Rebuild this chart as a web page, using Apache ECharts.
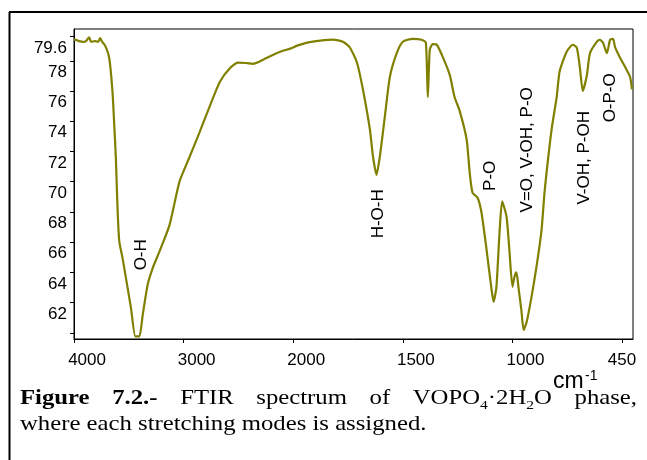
<!DOCTYPE html>
<html><head><meta charset="utf-8">
<script src="https://cdn.jsdelivr.net/npm/echarts@6/dist/echarts.min.js"></script>
<style>html,body{margin:0;padding:0;background:#fff}#c{width:647px;height:460px}</style>
</head><body><div id="c"></div>
<script>
// ---- data (wavenumber in cm-1, transmittance %) ----
const wavenumbers = [4000,3991,3954,3917,3890,3862,3844,3807,3780,3761,3743,3716,3679,3649,3633,3618,3603,3587,3557,3526,3480,3440,3404,3373,3328,3282,3220,3128,3037,2945,2853,2761,2670,2578,2505,2430,2367,2321,2239,2119,2028,1982,1936,1877,1818,1773,1741,1709,1682,1650,1636,1620,1605,1582,1559,1527,1500,1455,1414,1395,1386,1377,1364,1345,1318,1286,1264,1241,1209,1195,1182,1159,1141,1118,1095,1086,1073,1059,1047,1027,1014,1000,990,980,970,955,944,929,904,879,854,839,823,803,778,763,728,697,677,662,647,627,611,576,561,546,526,510,495,485,460,435,410,400];
const transmittance = [79.40,79.40,79.30,79.25,79.30,79.55,79.25,79.30,79.25,79.50,79.25,79.00,78.20,75.97,73.77,71.56,68.26,66.05,64.95,63.63,61.64,59.77,59.77,61.20,63.19,64.29,65.39,67.15,70.02,71.65,73.30,75.00,76.60,77.50,77.87,77.85,77.80,77.90,78.20,78.60,78.80,79.00,79.20,79.33,79.40,79.26,78.86,77.87,76.10,73.44,71.65,70.46,71.65,74.30,76.94,78.53,79.26,79.45,79.39,79.20,75.60,78.73,79.10,79.06,78.26,77.07,75.60,74.70,72.80,70.60,69.27,68.94,67.95,65.50,62.85,62.06,63.05,66.60,68.70,67.70,65.50,63.05,63.70,64.00,63.05,61.50,60.20,60.70,62.40,64.40,66.80,69.30,71.30,73.50,75.60,77.30,78.60,79.06,78.86,77.60,76.00,77.00,78.50,79.26,79.39,79.20,78.50,79.39,79.45,78.90,78.20,77.60,76.94,76.10];
const xTickWavenumbers = [4000,3000,2000,1500,1000,450];
const xTickLabels = ['4000','3000','2000','1500','1000','450'];
const yTickValues = [60,62,64,66,68,70,72,74,76,78,79.6];
const yLabelValues = [62,64,66,68,70,72,74,76,78,79.6];
const yLabelTexts = ['62','64','66','68','70','72','74','76','78','79.6'];
const annotations = [
  {text:'O-H', wn:3385, t:65.17},
  {text:'H-O-H', wn:1614, t:67.88},
  {text:'P-O', wn:1100, t:70.39},
  {text:'V=O, V-OH, P-O', wn:924, t:72.11},
  {text:'V-OH, P-OH', wn:637, t:71.58},
  {text:'O-P-O', wn:510, t:75.55}
];
const axisUnitLabel = 'cm';
const axisUnitSup = '-1';
const captionLine1 = [
  [{t:'Figure', b:true}], [{t:'7.2.-', b:true}], [{t:'FTIR'}], [{t:'spectrum'}], [{t:'of'}],
  [{t:'VOPO'},{t:'4',sub:true},{t:'·2H'},{t:'2',sub:true},{t:'O'}], [{t:'phase,'}]
];
const captionLine2 = 'where each stretching modes is assigned.';

// piecewise wavenumber -> axis position (each labelled tick interval = 1 unit)
function toAxis(w){
  const t = xTickWavenumbers;
  for (let i=0;i<t.length-1;i++){
    if (w >= t[i+1] || i === t.length-2) return i + (t[i]-w)/(t[i]-t[i+1]);
  }
}
const SANS = '"Liberation Sans", Arial, sans-serif';
const SERIF = '"Liberation Serif", "Times New Roman", serif';
const xLabelShift = 0.119, yLabelShift = 0.76;

const chart = echarts.init(document.getElementById('c'), null, {renderer:'canvas'});
chart.setOption({
  animation:false,
  backgroundColor:'#fff',
  grid:{left:74, right:14, top:29, bottom:121, show:true, borderColor:'#000', borderWidth:1, containLabel:false, outerBoundsMode:'none'},
  xAxis:{type:'value', min:0, max:5.1,
    axisLine:{show:true, onZero:false, lineStyle:{color:'#000', width:1}},
    axisTick:{show:true, inside:false, length:4, lineStyle:{color:'#000'}, customValues:xTickWavenumbers.map((w)=>toAxis(w))},
    axisLabel:{color:'#000', fontFamily:SANS, fontSize:17, margin:13,
      customValues:xTickWavenumbers.map((w,i)=> i<5 ? toAxis(w)+xLabelShift : toAxis(w)),
      formatter:(v)=> xTickLabels[Math.round(v)]},
    splitLine:{show:false}},
  yAxis:{type:'value', min:59.6, max:80.1,
    axisLine:{show:true, onZero:false, lineStyle:{color:'#000', width:1}},
    axisTick:{show:true, inside:false, length:4, lineStyle:{color:'#000'}, customValues:yTickValues},
    axisLabel:{color:'#000', fontFamily:SANS, fontSize:17, margin:7,
      customValues:yLabelValues.map(v=>v-yLabelShift),
      formatter:(v)=>{ const r=Math.round((v+yLabelShift)*10)/10; const k=yLabelValues.indexOf(r); return k>=0?yLabelTexts[k]:''; }},
    splitLine:{show:false}},
  series:[{type:'line', showSymbol:false, smooth:0.2,
    data:wavenumbers.map((w,i)=>[toAxis(w), transmittance[i]]),
    lineStyle:{color:'#808000', width:2.2}, itemStyle:{color:'#808000'}}]
});

// graphics
const g = [];
// outer frame
g.push({type:'line', shape:{x1:9.5,y1:12,x2:9.5,y2:460}, style:{stroke:'#000', lineWidth:2}});
g.push({type:'line', shape:{x1:9,y1:12,x2:647,y2:12}, style:{stroke:'#000', lineWidth:2}});
// annotations
annotations.forEach(a=>{
  const p = chart.convertToPixel({gridIndex:0}, [toAxis(a.wn), a.t]);
  g.push({type:'text', x:p[0], y:p[1], rotation:Math.PI/2,
    style:{text:a.text, fill:'#000', font:'17px '+SANS, align:'center', verticalAlign:'middle'}});
});
// axis unit
g.push({type:'text', x:553, y:382, style:{text:axisUnitLabel, fill:'#000', font:'23px '+SANS, align:'left', verticalAlign:'middle'}});
g.push({type:'text', x:585, y:376, style:{text:axisUnitSup, fill:'#000', font:'14px '+SANS, align:'left', verticalAlign:'middle'}});
// caption (text in the reference is horizontally stretched)
const ctx = document.createElement('canvas').getContext('2d');
const FS = 21.5, SUBFS = 13.5, SX = 1.15;
function pieceFont(p){ return (p.b?'bold ':'') + (p.sub?SUBFS:FS) + 'px ' + SERIF; }
function wordWidth(word){ return word.reduce((s,p)=>{ctx.font=pieceFont(p); return s+ctx.measureText(p.t).width*SX;},0); }
const lineLeft = 20, lineRight = 637;
const widths = captionLine1.map(wordWidth);
const gap = (lineRight-lineLeft-widths.reduce((a,b)=>a+b,0))/(captionLine1.length-1);
let cx = lineLeft;
const base1 = 398;
captionLine1.forEach((word,wi)=>{
  word.forEach(p=>{
    ctx.font = pieceFont(p);
    g.push({type:'text', x:cx, y: base1 + (p.sub?7:0), scaleX:SX, style:{text:p.t, fill:'#000', font:pieceFont(p), align:'left', verticalAlign:'middle'}});
    cx += ctx.measureText(p.t).width*SX;
  });
  cx += gap;
});
g.push({type:'text', x:lineLeft, y:424, scaleX:SX, style:{text:captionLine2, fill:'#000', font:FS+'px '+SERIF, align:'left', verticalAlign:'middle'}});
chart.setOption({graphic:g});
</script></body></html>
